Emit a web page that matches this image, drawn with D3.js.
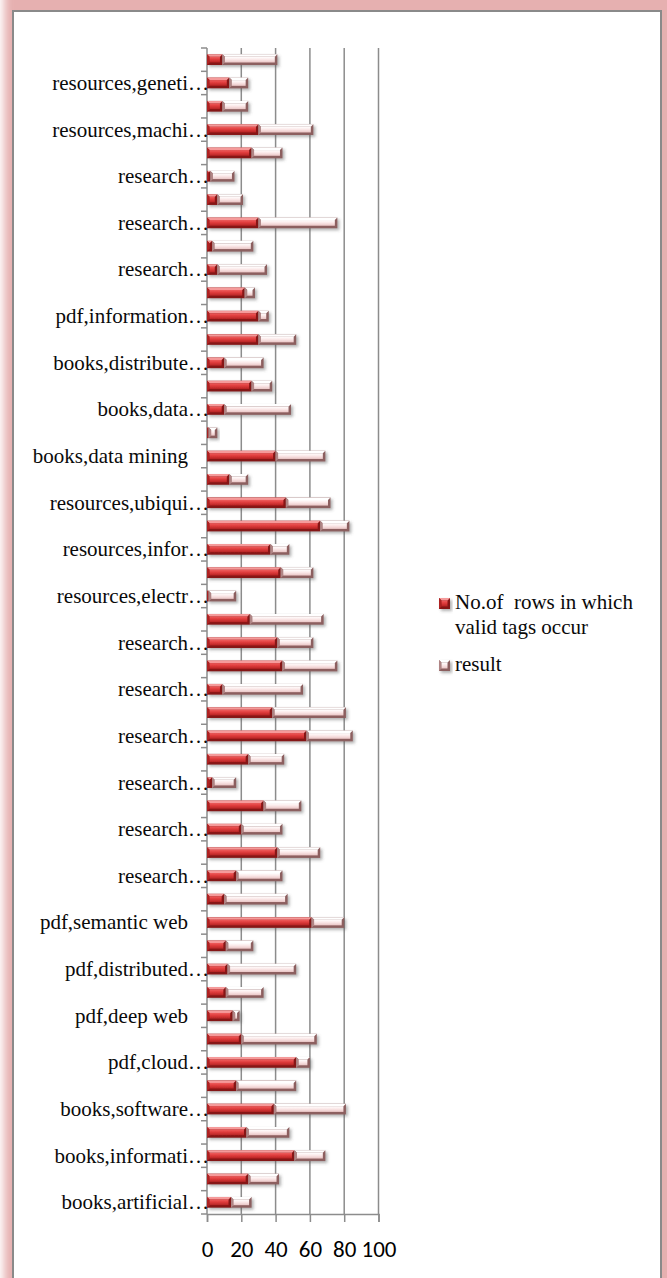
<!DOCTYPE html>
<html>
<head>
<meta charset="utf-8">
<script src="https://cdn.jsdelivr.net/npm/d3@7"></script>
<style>
  html, body { margin: 0; padding: 0; background: #fff; }
  svg { display: block; }
</style>
</head>
<body>
<svg id="chart" width="667" height="1278"></svg>
<script>
// Category labels, bottom to top (Excel order). Empty entries are categories whose label is skipped.
const categories = [
  "books,artificial…", "", "books,informati…", "", "books,software…", "",
  "pdf,cloud…", "", "pdf,deep web", "", "pdf,distributed…", "",
  "pdf,semantic web", "", "research…", "", "research…", "",
  "research…", "", "research…", "", "research…", "",
  "research…", "", "resources,electr…", "", "resources,infor…", "",
  "resources,ubiqui…", "", "books,data mining", "", "books,data…", "",
  "books,distribute…", "", "pdf,information…", "", "research…", "",
  "research…", "", "research…", "", "resources,machi…", "",
  "resources,geneti…", ""
];

// Series 1: No.of rows in which valid tags occur
const validRows = [
  14, 24, 51, 23, 39, 17, 52, 20, 15, 11,
  12, 11, 61, 10, 17, 41, 20, 33, 3, 24,
  58, 38, 9, 44, 41, 25, 1, 43, 37, 66,
  46, 13, 40, 1, 10, 26, 10, 30, 30, 22,
  6, 3, 30, 6, 2, 26, 30, 9, 13, 9
];

// Series 2: result
const result = [
  12, 18, 18, 25, 42, 35, 8, 44, 4, 22,
  40, 16, 19, 37, 27, 25, 24, 22, 14, 21,
  27, 43, 47, 32, 21, 43, 16, 19, 11, 17,
  26, 11, 29, 5, 39, 12, 23, 22, 6, 6,
  29, 24, 46, 15, 14, 18, 32, 15, 11, 32
];

const seriesNames = ["No.of  rows in which valid tags occur", "result"];
const xTicks = [0, 20, 40, 60, 80, 100];

const svg = d3.select("#chart");
const defs = svg.append("defs");

// Pink glow around the frame
const glow = defs.append("filter").attr("id", "glow")
  .attr("x", "-10%").attr("y", "-10%").attr("width", "120%").attr("height", "120%");
glow.append("feGaussianBlur").attr("stdDeviation", 4);

// Soft shadow under the bars
const shadow = defs.append("filter").attr("id", "barShadow")
  .attr("x", "-10%").attr("y", "-50%").attr("width", "130%").attr("height", "250%");
shadow.append("feDropShadow")
  .attr("dx", 2).attr("dy", 2).attr("stdDeviation", 1.4)
  .attr("flood-color", "#555").attr("flood-opacity", 0.45);

// Colour sets for the bevelled segments
const palettes = [
  { id: "red", dark: "#861616", top: "#f59a9a", left: "#ae2222",
    stops: [["0%", "#ef5e5e"], ["45%", "#df3c3c"], ["100%", "#b42424"]] },
  { id: "pink", dark: "#8c5e5e", top: "#ffffff", left: "#b08585",
    stops: [["0%", "#ffffff"], ["45%", "#fbe9e9"], ["100%", "#e9c5c5"]] }
];
palettes.forEach(p => {
  const g = defs.append("linearGradient").attr("id", "grad-" + p.id)
    .attr("x1", 0).attr("y1", 0).attr("x2", 0).attr("y2", 1);
  p.stops.forEach(s => g.append("stop").attr("offset", s[0]).attr("stop-color", s[1]));
});

// Frame
svg.append("rect")
  .attr("x", 4).attr("y", -20).attr("width", 700).attr("height", 1340)
  .attr("fill", "#e6b0b0").attr("filter", "url(#glow)");
svg.append("rect")
  .attr("x", 13).attr("y", 11).attr("width", 648).attr("height", 1300)
  .attr("fill", "#fff").attr("stroke", "#8a8a8a").attr("stroke-width", 2);

// Scales
const plot = { left: 207, right: 378.5, top: 48, bottom: 1214 };
const x = d3.scaleLinear().domain([0, 100]).range([plot.left, plot.right]);
const idx = d3.range(categories.length);
const y = d3.scaleBand().domain(idx.slice().reverse()).range([plot.top, plot.bottom]);
const barH = y.bandwidth() * 0.46;

// Vertical gridlines
svg.append("g").selectAll("line")
  .data(xTicks.filter(t => t > 0))
  .join("line")
  .attr("x1", d => x(d)).attr("x2", d => x(d))
  .attr("y1", plot.top).attr("y2", plot.bottom)
  .attr("stroke", "#8c8c8c").attr("stroke-width", 1.5);

// Bottom axis
const xAxis = svg.append("g")
  .attr("transform", `translate(0,${plot.bottom})`)
  .call(d3.axisBottom(x).tickValues(xTicks).tickSize(8).tickFormat(d3.format("d")));
xAxis.select(".domain").attr("stroke", "#8c8c8c").attr("stroke-width", 1.5);
xAxis.selectAll(".tick line").attr("stroke", "#8c8c8c").attr("stroke-width", 1.5);
xAxis.selectAll(".tick text")
  .attr("y", 43).attr("dy", 0)
  .attr("font-family", "Carlito, Calibri, 'Liberation Sans', Arial, sans-serif")
  .attr("font-size", 23).attr("fill", "#000");

// Left axis: line plus ticks at category boundaries
const boundary = d3.scaleLinear().domain([0, categories.length]).range([plot.bottom, plot.top]);
svg.append("line")
  .attr("x1", plot.left).attr("x2", plot.left)
  .attr("y1", plot.top).attr("y2", plot.bottom)
  .attr("stroke", "#8c8c8c").attr("stroke-width", 1.5);
svg.append("g").selectAll("line")
  .data(d3.range(categories.length + 1))
  .join("line")
  .attr("x1", plot.left - 6).attr("x2", plot.left)
  .attr("y1", d => boundary(d)).attr("y2", d => boundary(d))
  .attr("stroke", "#8c8c8c").attr("stroke-width", 1.5);

// Category labels (the trailing ellipsis hangs past the text edge)
const labelFont = "'Times New Roman', 'Liberation Serif', serif";
const labelEnd = 188;
const labels = svg.append("g")
  .attr("font-family", labelFont).attr("font-size", 21).attr("fill", "#0a0a0a");
idx.filter(i => categories[i] !== "").forEach(i => {
  const txt = categories[i];
  const cy = y(i) + y.bandwidth() / 2;
  const trunc = txt.endsWith("…");
  labels.append("text")
    .attr("x", labelEnd).attr("y", cy).attr("dy", "0.33em")
    .attr("text-anchor", "end")
    .text(trunc ? txt.slice(0, -1) : txt);
  if (trunc) {
    labels.append("text")
      .attr("x", labelEnd).attr("y", cy).attr("dy", "0.33em")
      .attr("text-anchor", "start")
      .text("…");
  }
});

// Draws one bevelled box
function bevelBox(g, x0, y0, w, h, p) {
  const b = Math.min(2.5, w / 2, h / 2);
  const x1 = x0 + w, y1 = y0 + h;
  g.append("rect").attr("x", x0).attr("y", y0).attr("width", w).attr("height", h)
    .attr("fill", p.dark);
  g.append("polygon")
    .attr("points", [[x0, y0], [x1, y0], [x1 - b, y0 + b], [x0 + b, y0 + b]].join(" "))
    .attr("fill", p.top);
  g.append("polygon")
    .attr("points", [[x0, y0], [x0 + b, y0 + b], [x0 + b, y1 - b], [x0, y1]].join(" "))
    .attr("fill", p.left);
  if (w - 2 * b > 0) {
    g.append("rect").attr("x", x0 + b).attr("y", y0 + b)
      .attr("width", w - 2 * b).attr("height", h - 2 * b)
      .attr("fill", `url(#grad-${p.id})`);
  }
}

// Stacked bars
const bars = svg.append("g");
idx.forEach(i => {
  const yTop = y(i) + (y.bandwidth() - barH) / 2;
  const g = bars.append("g").attr("filter", "url(#barShadow)");
  const a = validRows[i], r = result[i];
  if (a > 0) bevelBox(g, x(0), yTop, x(a) - x(0), barH, palettes[0]);
  if (r > 0) bevelBox(g, x(a), yTop, x(a + r) - x(a), barH, palettes[1]);
});

// Legend
const legend = svg.append("g")
  .attr("font-family", labelFont).attr("font-size", 21).attr("fill", "#0a0a0a");
const lg1 = legend.append("g").attr("filter", "url(#barShadow)");
bevelBox(lg1, 439, 598, 11, 11, palettes[0]);
legend.append("text").attr("x", 455).attr("y", 609)
  .text("No.of\u00a0\u00a0rows in which");
legend.append("text").attr("x", 455).attr("y", 634)
  .text("valid tags occur");
const lg2 = legend.append("g").attr("filter", "url(#barShadow)");
bevelBox(lg2, 439, 660, 11, 11, palettes[1]);
legend.append("text").attr("x", 455).attr("y", 671).text(seriesNames[1]);
</script>
</body>
</html>
